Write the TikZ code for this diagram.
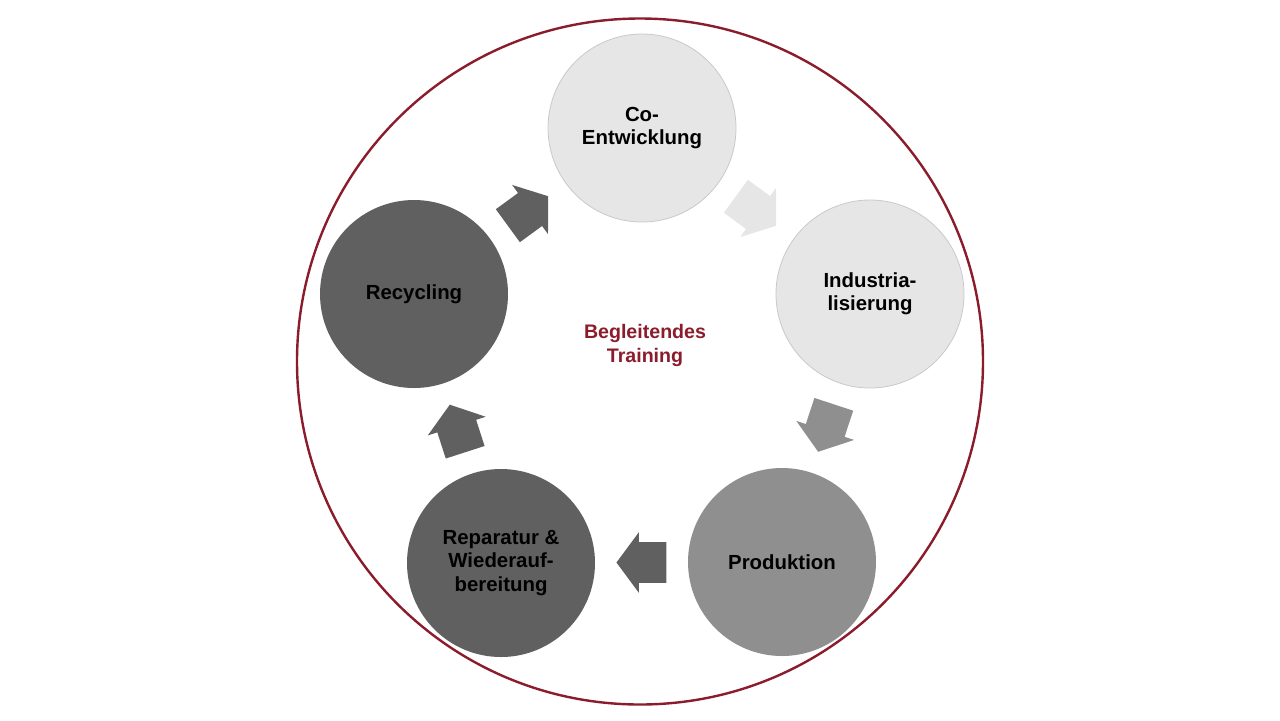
\documentclass[tikz,border=0pt]{standalone}
\usepackage{fontspec}
\setmainfont{Liberation Sans}
\usetikzlibrary{shapes.arrows,calc}

\definecolor{ringred}{HTML}{8B1C2C}
\definecolor{lightgr}{HTML}{E6E6E6}
\definecolor{lightbd}{HTML}{C9C9C9}
\definecolor{midgr}{HTML}{8F8F8F}
\definecolor{darkgr}{HTML}{606060}

\begin{document}
\begin{tikzpicture}[x=0.5pt, y=-0.5pt,
  main/.style = {circle, minimum size=94pt, inner sep=0pt, align=center,
    font=\fontsize{10.2}{11.6}\selectfont\bfseries},
  blockarrow/.style = {single arrow, minimum height=25pt, inner xsep=0pt, inner ysep=10pt,
    single arrow head extend=5pt, single arrow tip angle=107, rotate=#1, xshift=-3.75pt}]

\useasboundingbox (0, 0) rectangle (1280, 720);

\node[circle, draw=ringred, line width=1.2pt, minimum size=343pt] (ring) at (640, 361.5) {};

\node[main, fill=lightgr, draw=lightbd] (co) at (642, 128) {Co-\\Entwicklung};
\node[main, fill=lightgr, draw=lightbd] (ind) at (870, 294) {Industria-\\lisierung};
\node[main, fill=midgr] (prod) at (782, 562) {Produktion};
\node[main, fill=darkgr] (rep) at (501, 563) {Reparatur \&\\Wiederauf-\\bereitung};
\node[main, fill=darkgr] (rec) at (414, 294) {Recycling};

\node[blockarrow=-36.1, fill=lightgr] (a1) at ($(co)!0.5!(ind)$) {};
\node[blockarrow=-108.2, fill=midgr] (a2) at ($(ind)!0.5!(prod)$) {};
\node[blockarrow=180, fill=darkgr] (a3) at ($(prod)!0.5!(rep)$) {};
\node[blockarrow=107.9, fill=darkgr] (a4) at ($(rep)!0.5!(rec)$) {};
\node[blockarrow=36.1, fill=darkgr] (a5) at ($(rec)!0.5!(co)$) {};

\node[align=center, text=ringred, font=\fontsize{9.8}{12}\selectfont\bfseries] (train) at (645, 345) {Begleitendes\\Training};

\end{tikzpicture}
\end{document}
